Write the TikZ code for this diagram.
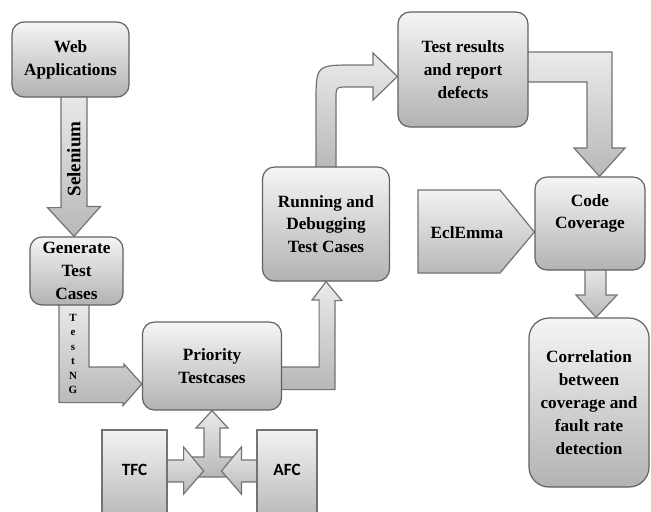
\documentclass[tikz,border=0pt]{standalone}
\usepackage{fontspec}
\setmainfont{Liberation Serif}
\newfontfamily\afcfont{Carlito}
\usetikzlibrary{positioning, calc, backgrounds}

\tikzset{
	boxtext/.style={align=center, font=\fontsize{8.6}{11.4}\selectfont\bfseries},
	box/.style={boxtext, draw=black!62, line width=0.6pt, rounded corners=6pt, top color=black!4, bottom color=black!30, inner sep=0pt},
	sqbox/.style={draw=black!55, line width=0.6pt, top color=black!5, bottom color=black!28, inner sep=0pt},
	sqtext/.style={font=\fontsize{8.6}{10}\selectfont\afcfont\bfseries},
	blockarrow/.style={draw=black!55, line width=0.6pt, top color=black!8, bottom color=black!28, line join=miter}
}

\begin{document}
\begin{tikzpicture}[x=0.5pt, y=-0.5pt]
	\clip (0,0) rectangle (651,511);
	% rounded boxes
	\foreach \nm/\cx/\cy/\w/\h/\txt in {web/70.5/59.5/117/75/{Web\\Applications}, gen/76.5/271/93/68/{Generate\\Test\\Cases}, prio/212/366/139/88/{Priority\\Testcases}, run/326/224/127/114/{Running and\\Debugging\\Test Cases}, res/463/69.5/130/115/{Test results\\and report\\defects}}
	{
		\node[box, minimum width=\w*0.5pt, minimum height=\h*0.5pt] (\nm) at (\cx,\cy) {\txt};
	}
	\node[box, minimum width=55pt, minimum height=46.5pt, label={[boxtext, yshift=5pt]center:{Code\\Coverage}}] (cov) at (590,223.5) {};
	\node[box, rounded corners=10pt, minimum width=60pt, minimum height=84.5pt] (corr) at (589,402.5) {Correlation\\between\\coverage and\\fault rate\\detection};

	% square boxes
	\node[sqbox, minimum width=32.5pt, minimum height=45pt, label={[sqtext, yshift=2.5pt]center:TFC}] (tfc) at (134.5,475) {};
	\node[sqbox, minimum width=30pt, minimum height=45pt, label={[sqtext, yshift=2.5pt]center:AFC}] (afc) at (287,475) {};
	\draw[sqbox] (418,190) -- (500,190) -- ($(cov.west)+(0,8.5)$) -- (500,273) -- (418,273) -- cycle;
	\node[boxtext] (ecl) at (467,233) {EclEmma};

	\begin{scope}[on background layer]
		% Selenium
		\draw[blockarrow] ($(web.south -| gen.north)+(-15.5,-5)$) -- ++(0,115) -- ++(-13.5,0) -- ($(gen.north)+(-2.5,0)$) -- ++(26.5,-30) -- ++(-13.5,0) -- ++(0,-115) -- cycle;
		% TestNG
		\draw[blockarrow] ($(gen.south)+(-17.5,-5)$) -- ++(0,102) -- ++(64,0) -- ++(0,3) -- ($(prio.west)+(0,18)$) -- ++(-18,-20) -- ++(0,3) -- ++(-35,0) -- ++(0,-67) -- cycle;
		% priority -> running
		\draw[blockarrow] ($(prio.east)+(-5,1)$) -- ++(42,0) -- ++(0,-67) -- ++(-7,0) -- (run.south) -- ++(16,19) -- ++(-7,0) -- ++(0,89) -- ++(-60,0) -- cycle;
		% running -> results
		\draw[blockarrow] ($(run.north)+(-10,5)$) -- (316,103) .. controls (316,65) .. (354,65) -- (373,65) -- (373,53) -- ($(res.west)+(0,7)$) -- (373,100) -- (373,87) -- (348,87) .. controls (336,87) .. (336,99) -- ($(run.north)+(10,5)$) -- cycle;
		% results -> coverage
		\draw[blockarrow] ($(res.east)+(-5,-17.5)$) -- (612,52) -- (612,148) -- (625,148) -- ($(cov.north)+(9.5,0)$) -- (574,148) -- (587,148) -- (587,82) -- ($(res.east)+(-5,12.5)$) -- cycle;
		% coverage -> correlation
		\draw[blockarrow] ($(cov.south)+(-5,-5)$) -- (585,295) -- (576,295) -- ($(corr.north)+(7,0)$) -- (617,295) -- (606,295) -- ($(cov.south)+(16,-5)$) -- cycle;
		% TFC/AFC -> priority
		\draw[blockarrow] (204,457) -- (204,428) -- (196,428) -- (prio.south) -- (228,428) -- (220,428) -- (220,457) -- (236,457) -- (236,477) -- (188,477) -- (188,457) -- cycle;
		\draw[blockarrow] ($(tfc.east)+(-5,-15)$) -- ++(21,0) -- ++(0,-13) -- ++(20,24) -- ++(-20,23) -- ++(0,-12) -- ++(-21,0) -- cycle;
		\draw[blockarrow] ($(afc.west)+(5,-15)$) -- ++(-20,0) -- ++(0,-13) -- ++(-20,24) -- ++(20,23) -- ++(0,-12) -- ++(20,0) -- cycle;
	\end{scope}

	% arrow labels
	\node[rotate=90, font=\fontsize{9.5}{10}\selectfont\bfseries] (sel) at (74,159) {Selenium};
	\node[align=center, font=\fontsize{5.5}{7.2}\selectfont\bfseries] (testng) at (73,354) {T\\e\\s\\t\\N\\G};
\end{tikzpicture}
\end{document}
